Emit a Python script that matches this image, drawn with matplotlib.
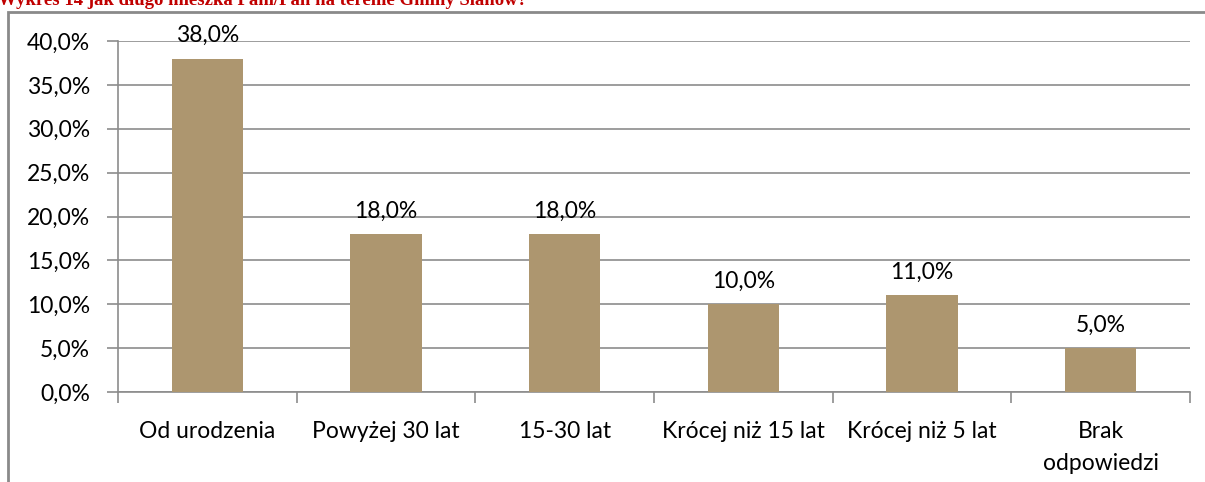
import matplotlib.pyplot as plt
from matplotlib.patches import Rectangle

categories = ["Od urodzenia", "Powyżej 30 lat", "15-30 lat",
              "Krócej niż 15 lat", "Krócej niż 5 lat", "Brak\nodpowiedzi"]
values = [38.0, 18.0, 18.0, 10.0, 11.0, 5.0]
title = "Wykres 14 jak długo mieszka Pani/Pan na terenie Gminy Sianów?"

BAR = "#ad966f"
GRID = "#8c8c8c"
FS = 16.5

plt.rcParams["font.family"] = ["Lato", "DejaVu Sans"]

W, H = 1205, 482
fig = plt.figure(figsize=(W / 100, H / 100), dpi=100)
ax = fig.add_axes([118 / W, 1 - 392 / H, (1190 - 118) / W, (392 - 41) / H])

x = range(len(categories))
ax.bar(x, values, width=0.4, color=BAR, zorder=3)
for xi, v in zip(x, values):
    ax.text(xi, v + 1.9, f"{v:.1f}%".replace(".", ","), ha="center", va="baseline",
            fontsize=FS, color="black", zorder=4)

ax.set_xlim(-0.5, len(categories) - 0.5)
ax.set_ylim(0, 40)
yt = [0, 5, 10, 15, 20, 25, 30, 35, 40]
ax.set_yticks(yt)
ax.set_yticklabels([f"{t:.1f}%".replace(".", ",") for t in yt], fontsize=FS)
ax.yaxis.grid(True, color=GRID, linewidth=1.2, zorder=0)

# category labels centred, ticks on the boundaries between categories
ax.set_xticks(list(x))
ax.set_xticklabels(categories, fontsize=FS, va="top", linespacing=1.65)
ax.tick_params(axis="x", length=0, pad=21)
ax.set_xticks([i - 0.5 for i in range(len(categories) + 1)], minor=True)
ax.tick_params(axis="x", which="minor", length=8, color=GRID, width=1.2, direction="out")
ax.tick_params(axis="y", length=8, color=GRID, width=1.2, pad=12)

for side in ("top", "right"):
    ax.spines[side].set_visible(False)
for side in ("left", "bottom"):
    ax.spines[side].set_color(GRID)
    ax.spines[side].set_linewidth(1.2)

# chart frame
fig.patches.append(Rectangle((8 / W, -0.1), 1.1, 1 - 12 / H + 0.1, transform=fig.transFigure,
                             fill=False, edgecolor="#8a8a8a", linewidth=2, zorder=0))

fig.text(-2 / W, 1 - 5 / H, title, family=["Liberation Serif", "DejaVu Serif"],
         fontweight="bold", fontsize=13.5, color="#c00000", va="baseline", ha="left")

fig.savefig("out.png", dpi=100)
